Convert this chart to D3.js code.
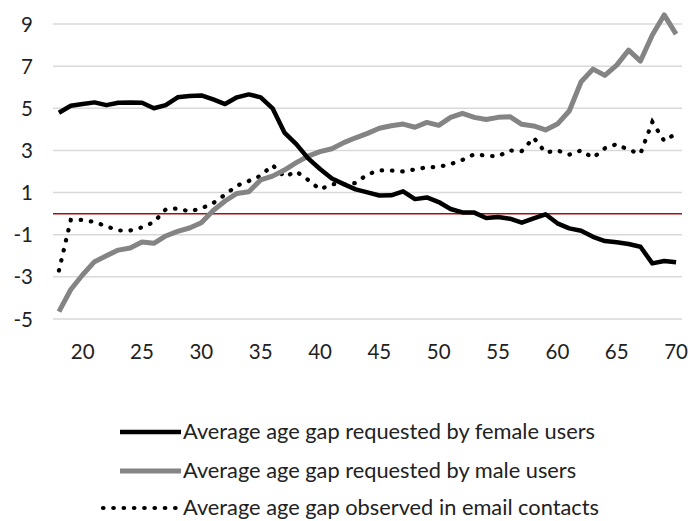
<!DOCTYPE html>
<html>
<head>
<meta charset="utf-8">
<script src="https://cdn.jsdelivr.net/npm/d3@7"></script>
<style>
  body { margin: 0; background: #fff; }
  svg { display: block; font-family: Lato, "Open Sans", sans-serif; }
</style>
</head>
<body>
<div id="chart"></div>
<script>
// ages on the category axis
var ages = [18, 19, 20, 21, 22, 23, 24, 25, 26, 27, 28, 29, 30,
            31, 32, 33, 34, 35, 36, 37, 38, 39, 40,
            41, 42, 43, 44, 45, 46, 47, 48, 49, 50,
            51, 52, 53, 54, 55, 56, 57, 58, 59, 60,
            61, 62, 63, 64, 65, 66, 67, 68, 69, 70];

var female = [4.79, 5.12, 5.2, 5.28, 5.15, 5.26, 5.28, 5.26, 5.0, 5.15, 5.52, 5.58, 5.61,
              5.42, 5.2, 5.52, 5.66, 5.52, 5.0, 3.85, 3.3, 2.62, 2.12,
              1.67, 1.4, 1.15, 1.01, 0.86, 0.87, 1.06, 0.69, 0.77, 0.55,
              0.22, 0.06, 0.05, -0.21, -0.16, -0.24, -0.43, -0.22, -0.03, -0.46,
              -0.70, -0.81, -1.1, -1.3, -1.36, -1.44, -1.57, -2.36, -2.25, -2.31];

var male = [-4.65, -3.6, -2.9, -2.28, -2.0, -1.73, -1.63, -1.35, -1.41, -1.06, -0.84, -0.68, -0.43,
            0.15, 0.6, 0.96, 1.04, 1.6, 1.78, 2.07, 2.42, 2.73, 2.94,
            3.08, 3.37, 3.6, 3.81, 4.05, 4.17, 4.25, 4.1, 4.33, 4.19,
            4.57, 4.76, 4.57, 4.47, 4.57, 4.6, 4.24, 4.16, 3.97, 4.25,
            4.87, 6.26, 6.86, 6.56, 7.05, 7.76, 7.24, 8.48, 9.43, 8.52];

var email = [-2.7, -0.3, -0.3, -0.4, -0.6, -0.8, -0.8, -0.65, -0.4, 0.2, 0.25, 0.1, 0.25,
             0.5, 0.9, 1.33, 1.55, 1.8, 2.3, 1.75, 2.0, 1.6, 1.15,
             1.4, 1.4, 1.45, 1.87, 2.05, 2.05, 2.0, 2.1, 2.2, 2.22,
             2.35, 2.55, 2.82, 2.75, 2.72, 3.0, 2.97, 3.6, 2.9, 3.0,
             2.8, 3.0, 2.65, 3.1, 3.3, 3.02, 2.85, 4.35, 3.45, 3.8];

var yTicks = [-5, -3, -1, 1, 3, 5, 7, 9];
var xTicks = [20, 25, 30, 35, 40, 45, 50, 55, 60, 65, 70];

var legendLabels = ["Average age gap requested by female users",
                    "Average age gap requested by male users",
                    "Average age gap observed in email contacts"];

var width = 691,
    height = 521;

var svg = d3.select("#chart")
    .append("svg")
    .attr("width", width)
    .attr("height", height);

var x = d3.scaleBand()
    .domain(ages)
    .range([53, 682])
    .padding(0);

var y = d3.scaleLinear()
    .domain([-5, 9])
    .range([319, 24]);

function cx(a) { return x(a) + x.bandwidth() / 2; }

// gridlines
svg.append("g")
    .selectAll("line")
    .data(yTicks)
    .enter()
    .append("line")
    .attr("x1", 53)
    .attr("x2", 682)
    .attr("y1", function (d) { return y(d); })
    .attr("y2", function (d) { return y(d); })
    .attr("stroke", "#d9d9d9")
    .attr("stroke-width", 1.5);

// y labels
svg.append("g")
    .selectAll("text")
    .data(yTicks)
    .enter()
    .append("text")
    .attr("x", 33)
    .attr("y", function (d) { return y(d) + 7.5; })
    .attr("text-anchor", "end")
    .attr("font-size", 20.5)
    .attr("fill", "#222")
    .text(function (d) { return d; });

// x axis labels
var xAxis = svg.append("g")
    .attr("transform", "translate(0,337)")
    .call(d3.axisBottom(x).tickValues(xTicks).tickSize(0).tickPadding(0));
xAxis.select(".domain").remove();
xAxis.selectAll("text")
    .attr("dy", "1.07em")
    .attr("font-size", 20.5)
    .attr("font-family", "Lato, 'Open Sans', sans-serif")
    .attr("fill", "#222");

// zero line
svg.append("line")
    .attr("x1", 53)
    .attr("x2", 682)
    .attr("y1", y(0))
    .attr("y2", y(0))
    .attr("stroke", "#a50f0f")
    .attr("stroke-width", 1.5);

var line = d3.line()
    .x(function (d, i) { return cx(ages[i]); })
    .y(function (d) { return y(d); });

svg.append("path")
    .datum(email)
    .attr("d", line)
    .attr("fill", "none")
    .attr("stroke", "#000")
    .attr("stroke-width", 4.2)
    .attr("stroke-linecap", "round")
    .attr("stroke-dasharray", "0.5 9.8");

svg.append("path")
    .datum(male)
    .attr("d", line)
    .attr("fill", "none")
    .attr("stroke", "#848484")
    .attr("stroke-width", 5)
    .attr("stroke-linejoin", "round");

svg.append("path")
    .datum(female)
    .attr("d", line)
    .attr("fill", "none")
    .attr("stroke", "#000")
    .attr("stroke-width", 4.5)
    .attr("stroke-linejoin", "round");

// legend
var legendY = [432, 471, 508];
var legend = svg.append("g");

legend.append("line")
    .attr("x1", 120).attr("x2", 181)
    .attr("y1", legendY[0]).attr("y2", legendY[0])
    .attr("stroke", "#000").attr("stroke-width", 4.5);
legend.append("line")
    .attr("x1", 120).attr("x2", 181)
    .attr("y1", legendY[1]).attr("y2", legendY[1])
    .attr("stroke", "#848484").attr("stroke-width", 5);
legend.append("line")
    .attr("x1", 103).attr("x2", 181)
    .attr("y1", legendY[2]).attr("y2", legendY[2])
    .attr("stroke", "#000").attr("stroke-width", 4.2)
    .attr("stroke-linecap", "round")
    .attr("stroke-dasharray", "0.5 9.8");

legend.selectAll("text")
    .data(legendLabels)
    .enter()
    .append("text")
    .attr("x", 183)
    .attr("y", function (d, i) { return legendY[i] + 7; })
    .attr("font-size", 21.8)
    .attr("fill", "#222")
    .text(function (d) { return d; });
</script>
</body>
</html>
